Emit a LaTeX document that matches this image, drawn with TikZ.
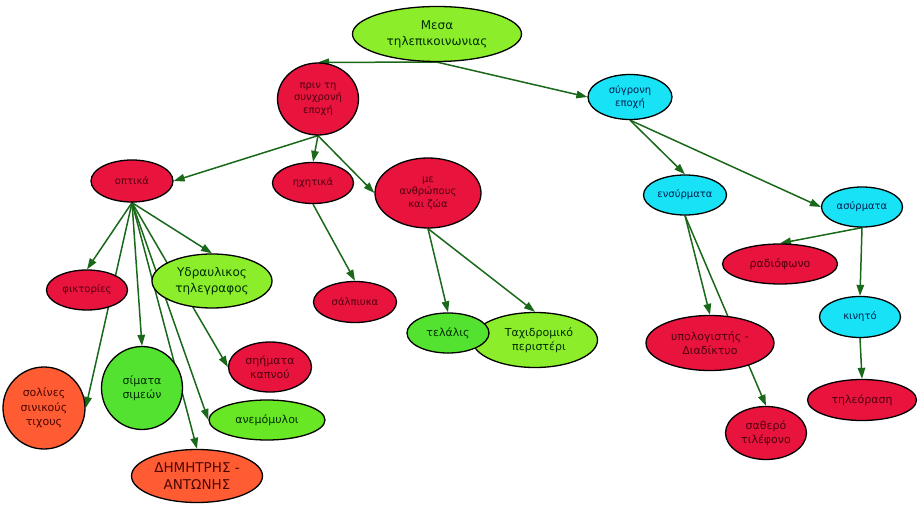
\documentclass[tikz,border=0pt]{standalone}
\usepackage{fontspec}
\setmainfont{DejaVu Sans}
\usetikzlibrary{shapes.geometric,arrows.meta,backgrounds}
\definecolor{redfill}{RGB}{232,20,62}
\definecolor{orangefill}{RGB}{255,92,52}
\definecolor{limefill}{RGB}{140,238,42}
\definecolor{greenfill}{RGB}{84,226,48}
\definecolor{midgreenfill}{RGB}{104,232,36}
\definecolor{cyanfill}{RGB}{24,226,246}
\definecolor{linkgreen}{RGB}{26,104,26}
\begin{document}
\begin{tikzpicture}[x=1pt,y=-1pt,
    concept/.style={ellipse,draw=black,line width=1.3pt,inner sep=0pt,align=center},
    rednode/.style={concept,fill=redfill,text={rgb,255:red,80;green,0;blue,15}},
    orangenode/.style={concept,fill=orangefill,text={rgb,255:red,75;green,5;blue,0}},
    limenode/.style={concept,fill=limefill,text={rgb,255:red,0;green,45;blue,0}},
    greennode/.style={concept,fill=greenfill,text={rgb,255:red,0;green,45;blue,0}},
    cyannode/.style={concept,fill=cyanfill,text={rgb,255:red,0;green,30;blue,80}},
    smalltxt/.style={font=\fontsize{10}{12.5}\selectfont},
    midtxt/.style={font=\fontsize{11}{14.5}\selectfont},
    bigtxt/.style={font=\fontsize{12}{16}\selectfont},
    link/.style={draw=linkgreen,line width=1.5pt,-{Triangle[length=11pt,width=7.5pt]}}]
  \useasboundingbox (0,0) rectangle (923,510);
  \node[limenode,bigtxt,minimum width=169pt,minimum height=55pt] (root) at (437,34) {Μεσα\\τηλεπικοινωνιας};
  \node[rednode,smalltxt,minimum width=81pt,minimum height=72pt] (prin) at (318,99) {πριν τη\\συνχρονή\\εποχή};
  \node[cyannode,smalltxt,minimum width=84pt,minimum height=45pt] (sygroni) at (630,97) {σύγρονη\\εποχή};
  \node[rednode,smalltxt,minimum width=82pt,minimum height=42pt] (optika) at (132,181) {οπτικά};
  \node[rednode,smalltxt,minimum width=81pt,minimum height=41pt] (ichitika) at (313,183) {ηχητικά};
  \node[rednode,smalltxt,minimum width=106pt,minimum height=70pt] (anthropous) at (428,193) {με\\ανθρώπους\\και ζώα};
  \node[rednode,smalltxt,minimum width=81pt,minimum height=40pt] (fiktories) at (87,290) {φικτορίες};
  \node[limenode,bigtxt,minimum width=120pt,minimum height=54pt] (ydraulikos) at (212,281) {Υδραυλικος\\τηλεγραφος};
  \node[orangenode,midtxt,minimum width=82pt,minimum height=82pt] (solines) at (44,408) {σολίνες\\σινικούς\\τιχους};
  \node[greennode,midtxt,minimum width=81pt,minimum height=83pt] (simata) at (142,388) {σίματα\\σιμεών};
  \node[rednode,midtxt,minimum width=83pt,minimum height=50pt] (kapnou) at (270,367) {σηήματα\\καπνού};
  \node[concept,fill=midgreenfill,text={rgb,255:red,0;green,45;blue,0},midtxt,minimum width=116pt,minimum height=40pt] (anemo) at (267,420) {ανεμόμυλοι};
  \node[orangenode,font=\fontsize{13.5}{17}\selectfont,minimum width=131pt,minimum height=53pt] (dimitris) at (197,476) {ΔΗΜΗΤΡΗΣ -\\ΑΝΤΩΝΗΣ};
  \node[rednode,smalltxt,minimum width=83pt,minimum height=41pt] (salpiuka) at (355,302) {σάλπιυκα};
  \node[limenode,midtxt,minimum width=125pt,minimum height=55pt,text width=84pt] (taxidromiko) at (535,340) {\hspace*{8pt}Ταχιδρομικό\\\hspace*{8pt}περιστέρι};
  \node[greennode,midtxt,minimum width=82pt,minimum height=40pt] (telalis) at (448,333) {τελάλις};
  \node[cyannode,smalltxt,minimum width=83pt,minimum height=40pt] (ensyrmata) at (685,195) {ενσύρματα};
  \node[cyannode,smalltxt,minimum width=81pt,minimum height=40pt] (asyrmata) at (862,207) {ασύρματα};
  \node[rednode,midtxt,minimum width=115pt,minimum height=40pt] (radiofono) at (780,264) {ραδιόφωνο};
  \node[rednode,midtxt,minimum width=128pt,minimum height=55pt] (ypologistis) at (710,343) {υπολογιστής -\\Διαδίκτυο};
  \node[cyannode,smalltxt,minimum width=81pt,minimum height=41pt] (kinito) at (860,317) {κινητό};
  \node[rednode,midtxt,minimum width=109pt,minimum height=41pt] (tileorasi) at (862,400) {τηλεόραση};
  \node[rednode,midtxt,minimum width=81pt,minimum height=53pt] (stathero) at (766,433) {σαθερό\\τιλέφονο};
  \begin{scope}[on background layer]
    \fill[white] (0,0) rectangle (923,510);
    \draw[link] (root.south) -- (prin.north);
    \draw[link] (root.south) -- (sygroni.west);
    \draw[link] (prin.south) -- (optika.east);
    \draw[link] (prin.south) -- (ichitika.north);
    \draw[link] (prin.south) -- (anthropous.west);
    \draw[link] (optika.south) -- (fiktories.north);
    \draw[link] (optika.south) -- (ydraulikos.north);
    \draw[link] (optika.south) -- (solines.east);
    \draw[link] (optika.south) -- (simata.north);
    \draw[link] (optika.south) -- (kapnou.west);
    \draw[link] (optika.south) -- (anemo.west);
    \draw[link] (optika.south) -- (dimitris.north);
    \draw[link] (ichitika.south) -- (salpiuka.north);
    \draw[link] (anthropous.south) -- (telalis.north);
    \draw[link] (anthropous.south) -- (taxidromiko.north);
    \draw[link] (sygroni.south) -- (ensyrmata.north);
    \draw[link] (sygroni.south) -- (asyrmata.west);
    \draw[link] (ensyrmata.south) -- (ypologistis.north);
    \draw[link] (ensyrmata.south) -- (stathero.north);
    \draw[link] (asyrmata.south) -- (radiofono.north);
    \draw[link] (asyrmata.south) -- (kinito.north);
    \draw[link] (kinito.south) -- (tileorasi.north);
  \end{scope}
\end{tikzpicture}
\end{document}
